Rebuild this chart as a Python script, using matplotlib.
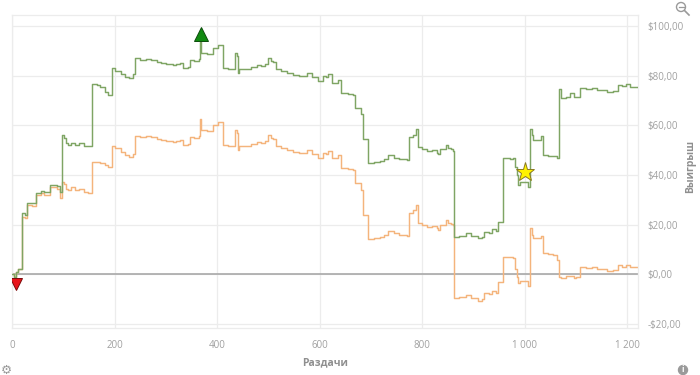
import matplotlib
matplotlib.use("Agg")
import matplotlib.pyplot as plt
import matplotlib.patches as patches
from matplotlib.lines import Line2D
from matplotlib.ticker import FuncFormatter

# Hands played (x) and cumulative winnings
green_hands = [0, 3, 8, 12, 18, 24, 28, 38, 47, 55, 62, 73, 88, 93, 96, 100, 105, 109, 115, 122,
               130, 140, 148, 156, 165, 171, 180, 187, 194, 200, 206, 212, 220, 228, 236, 239,
               250, 260, 270, 282, 290, 300, 314, 320, 327, 333, 343, 346, 355, 364, 366, 368,
               380, 389, 392, 397, 402, 411, 420, 431, 434, 438, 440, 442, 455, 465, 477, 485,
               492, 499, 505, 509, 515, 525, 535, 548, 560, 574, 585, 597, 606, 612, 616, 623,
               636, 642, 655, 665, 668, 681, 684, 694, 705, 717, 725, 733, 745, 755, 770, 774,
               782, 788, 791, 800, 808, 818, 828, 830, 835, 847, 850, 856, 859, 862, 872, 886,
               895, 909, 916, 921, 930, 935, 944, 948, 957, 970, 977, 980, 984, 987, 990, 1000,
               1006, 1009, 1013, 1016, 1029, 1032, 1036, 1045, 1055, 1063, 1066, 1071, 1080,
               1087, 1095, 1100, 1107, 1120, 1130, 1140, 1152, 1160, 1172, 1182, 1190, 1198,
               1205, 1218]
green_values = [0, -1, 1, 2, 24.8, 24, 28.8, 28.5, 32.6, 33.6, 33, 35.8, 35.5, 33, 56, 55, 53, 52,
                53, 52, 52.8, 51.8, 51.5, 76.6, 76, 75.5, 73.5, 72, 82.9, 82, 82, 80.6, 79.5,
                78.9, 80.5, 86.9, 86.3, 86.8, 86.4, 85.6, 85, 84.5, 84.2, 84.8, 85, 82.9, 83.5,
                86.2, 85.8, 86.5, 93.6, 88.9, 88.5, 88.5, 90.9, 91, 92.3, 82.9, 82.5, 82.5, 89,
                88, 80.9, 82.5, 82.8, 83.5, 84.1, 83.8, 84.5, 86.9, 86, 85.5, 82.5, 81.8, 81,
                80.2, 80, 80.9, 79.5, 77.8, 79.7, 79.5, 80.5, 76.9, 78.2, 73.1, 72.5, 72, 66.8,
                64.5, 54.3, 44.9, 45.3, 45.7, 46.5, 48, 47, 46.5, 46, 55.4, 56, 58.3, 51.1,
                50.5, 49.6, 50, 49, 48.5, 50.5, 52, 51, 50.5, 49.6, 15.1, 15.5, 16.5, 15.5,
                14.5, 15, 17.1, 16.5, 18.1, 17.5, 21.2, 46.9, 46.5, 46.7, 43.3, 40, 35.9, 37.3,
                37, 35, 58.5, 56, 54, 54, 55.5, 48, 47.5, 47.5, 46.9, 74.4, 70.8, 71.5, 72.8,
                71.5, 71.3, 74.8, 74.5, 74.9, 74.2, 74, 73.5, 73.9, 76.2, 75.6, 76.4, 75.5, 75.2]

orange_hands = green_hands
orange_values = [0, -1, 1, 2, 23.2, 22.5, 27.9, 27.5, 31.9, 32.8, 32, 35.3, 34.5, 30.6, 37.3, 36.5,
                 34.5, 33.9, 35, 34, 34.5, 33.3, 32.8, 45.3, 45, 44.7, 43.8, 43.3, 51.6, 51, 51,
                 49.3, 48, 47.3, 48.5, 55.7, 55.3, 55.8, 55.4, 54.6, 54, 53.5, 53.2, 53.8, 54,
                 51.9, 52.5, 55.2, 54.8, 55.5, 62.6, 57.9, 57.5, 57.5, 59.9, 60, 61.3, 51.9,
                 51.5, 51.5, 58, 57, 49.9, 51.5, 51.8, 52.5, 53.1, 52.8, 53.5, 55.9, 55, 54.5,
                 51.5, 50.8, 50, 49.2, 49, 49.9, 48.5, 46.8, 48.7, 48.5, 49.6, 46.7, 48, 42.7,
                 42.3, 41.9, 36.6, 33.9, 23.9, 14.2, 14.6, 14.9, 16, 17.5, 16.5, 15.8, 15.4,
                 24.8, 26, 27.9, 20.5, 20, 19.2, 19.6, 18.8, 17.8, 20, 21.9, 20.8, 20.3, 19.8,
                 -9.4, -9.2, -8.3, -9.5, -10.7, -10, -7.7, -8, -6.9, -7.5, -3, 7.1, 6.8, 6.4, 2,
                 -1, -3.4, -2.5, -2.8, -4.7, 18.5, 16, 14.5, 14.5, 15.5, 8.4, 8, 7.8, 5.8, -1,
                 -1.3, -0.5, -0.8, -1.5, -1.2, 2.8, 2.5, 3, 2.2, 2, 1.5, 1.9, 3.7, 3.1, 3.9, 3,
                 2.8]

# marker spots: lowest point, highest point, star
low_mark = (7, -4)
high_mark = (369, 96.6)
star_mark = (1000, 41)

x_ticks = [0, 200, 400, 600, 800, 1000, 1200]
y_ticks = [-20, 0, 20, 40, 60, 80, 100]

GREEN = "#7fa564"
ORANGE = "#f4b47c"
GRID = "#ececec"
TEXT = "#a0a0a0"
LABEL = "#8f8f8f"

plt.rcParams["font.family"] = ["Open Sans", "DejaVu Sans"]

fig = plt.figure(figsize=(7, 3.75), dpi=100)
ax = fig.add_axes([0.0176, 0.126, 0.8934, 0.833])

ax.set_xlim(0, 1220)
ax.set_ylim(-21.5, 104.2)

ax.set_xticks(x_ticks)
ax.set_yticks(y_ticks)
ax.grid(True, color=GRID, linewidth=0.9)
ax.set_axisbelow(True)
ax.axhline(0, color="#a8a8a8", linewidth=1.2, zorder=1)

ax.plot(orange_hands, orange_values, drawstyle="steps-post", color=ORANGE, linewidth=1.05, zorder=2)
ax.plot(green_hands, green_values, drawstyle="steps-post", color=GREEN, linewidth=1.05, zorder=3)

ax.plot(*low_mark, marker="v", markersize=8, color="#e8141a", markeredgecolor="#7a0a0a",
        markeredgewidth=0.7, zorder=5)
ax.plot(*high_mark, marker="^", markersize=10, color="#118a11", markeredgecolor="#0b4d0b",
        markeredgewidth=0.7, zorder=5)
ax.plot(*star_mark, marker="*", markersize=14, color="#fff200", markeredgecolor="#8a7a20",
        markeredgewidth=0.7, zorder=5)

ax.yaxis.tick_right()
ax.yaxis.set_label_position("right")


def money(v, pos):
    sign = "-" if v < 0 else ""
    return f"{sign}${abs(v):.2f}".replace(".", ",")


def hands(v, pos):
    return f"{int(v):,}".replace(",", " ")


ax.yaxis.set_major_formatter(FuncFormatter(money))
ax.xaxis.set_major_formatter(FuncFormatter(hands))
ax.tick_params(axis="both", length=0, labelsize=7, colors=TEXT)
ax.tick_params(axis="y", pad=7)
ax.tick_params(axis="x", pad=9)

for side, spine in ax.spines.items():
    spine.set_color(GRID)
    spine.set_linewidth(0.9)

ax.set_xlabel("Раздачи", fontsize=7.5, fontweight="bold", color=LABEL)
ax.set_ylabel("Выигрыш", fontsize=7.5, fontweight="bold", color=LABEL, rotation=90)
ax.xaxis.set_label_coords(0.5, -0.112)
ax.xaxis.label.set_va("center")
ax.yaxis.set_label_coords(1.085, 0.518)
ax.yaxis.label.set_va("center")
ax.yaxis.label.set_ha("center")

# small toolbar icons around the chart
fig.text(6 / 700, 1 - 370 / 375, "\u2699", fontsize=9, color="#9a9a9a",
         ha="center", va="center", family="DejaVu Sans")
fig.patches.append(patches.Ellipse((683 / 700, 1 - 370 / 375), 9 / 700, 9 / 375,
                                   transform=fig.transFigure, color="#9a9a9a"))
fig.text(683 / 700, 1 - 370 / 375, "i", fontsize=6, color="white", fontweight="bold",
         ha="center", va="center")
fig.patches.append(patches.Ellipse((681 / 700, 1 - 7 / 375), 9 / 700, 9 / 375,
                                   transform=fig.transFigure, fill=False,
                                   edgecolor="#9a9a9a", linewidth=1))
fig.lines.append(Line2D([678.5 / 700, 683.5 / 700], [1 - 7 / 375, 1 - 7 / 375],
                        transform=fig.transFigure, color="#9a9a9a", linewidth=0.9))
fig.lines.append(Line2D([684.5 / 700, 689 / 700], [1 - 10.5 / 375, 1 - 15 / 375],
                        transform=fig.transFigure, color="#9a9a9a", linewidth=1.2))

fig.savefig("out.png", dpi=100)
